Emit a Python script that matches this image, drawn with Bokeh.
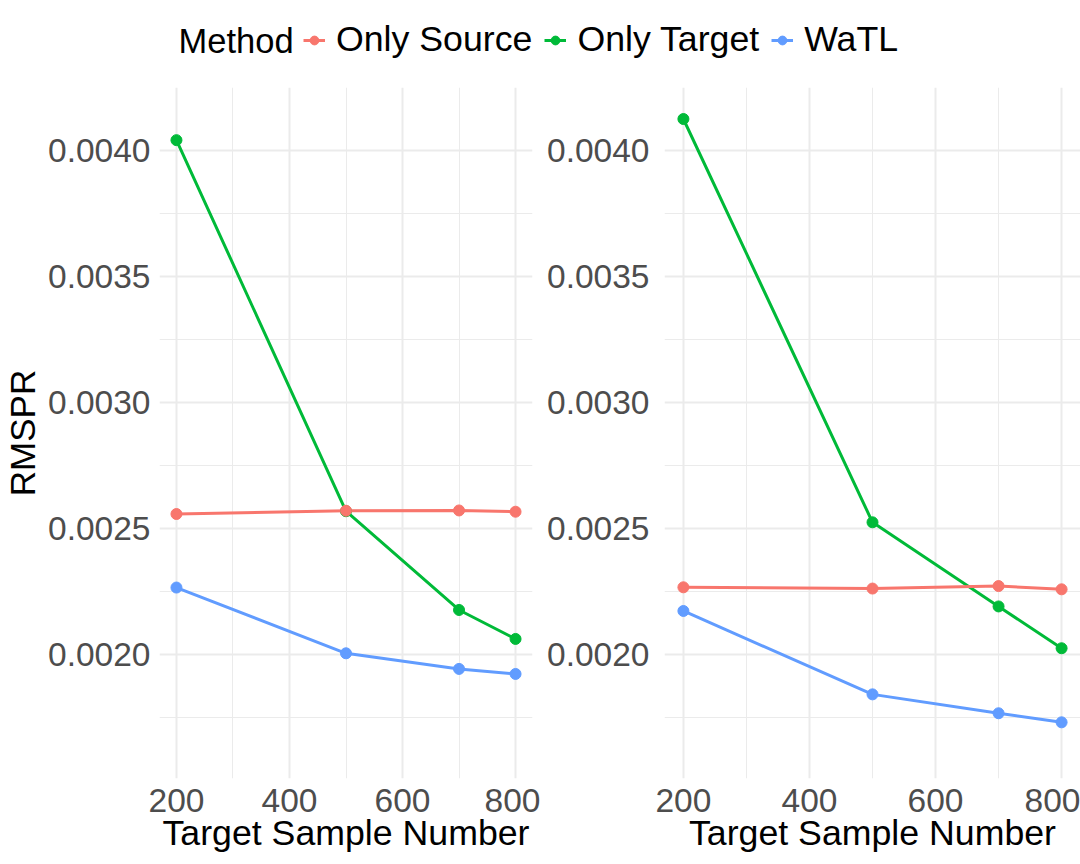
from bokeh.plotting import figure
from bokeh.layouts import column, row
from bokeh.models import (Range1d, FixedTicker, PrintfTickFormatter, Legend,
                          LegendItem, Label)
from bokeh.embed import file_html
from bokeh.resources import INLINE

# ---------------- data ----------------
methods = ["Only Source", "Only Target", "WaTL"]
colors = ["#F8766D", "#00BA38", "#619CFF"]
x_vals = [200, 500, 700, 800]

left_only_source = [0.002557, 0.002570, 0.002571, 0.002566]
left_only_target = [0.004041, 0.002568, 0.002176, 0.002061]
left_watl = [0.002265, 0.002004, 0.001942, 0.001922]

right_only_source = [0.002266, 0.002261, 0.002271, 0.002258]
right_only_target = [0.004125, 0.002524, 0.002190, 0.002024]
right_watl = [0.002172, 0.001841, 0.001766, 0.001730]

x_ticks = [200, 400, 600, 800]
x_minor = [300, 500, 700]
y_ticks = [0.0020, 0.0025, 0.0030, 0.0035, 0.0040]
y_minor = [0.00175, 0.00225, 0.00275, 0.00325, 0.00375, 0.00425]
x_lim = (170, 830)
y_lim = (0.001507, 0.00425)

x_title = "Target Sample Number"
y_title = "RMSPR"
legend_title = "Method"

FONT = "Liberation Sans"
NAN = float("nan")
PANEL_H = 777


def make_panel(series, width, mb_left, mb_right, ylabel, y_standoff):
    p = figure(width=width, height=PANEL_H, output_backend="svg",
               toolbar_location=None,
               x_range=Range1d(*x_lim), y_range=Range1d(*y_lim),
               min_border_left=mb_left, min_border_right=mb_right,
               min_border_top=0, min_border_bottom=86)
    p.outline_line_color = None
    p.background_fill_color = "white"
    p.border_fill_color = "white"

    xt = FixedTicker(ticks=x_ticks, minor_ticks=x_minor)
    yt = FixedTicker(ticks=y_ticks, minor_ticks=y_minor)
    p.xaxis.ticker = xt
    p.yaxis.ticker = yt
    p.xgrid.ticker = xt
    p.ygrid.ticker = yt
    p.yaxis.formatter = PrintfTickFormatter(format="%.4f")

    for ax in (p.xaxis, p.yaxis):
        ax.axis_line_color = None
        ax.major_tick_line_color = None
        ax.minor_tick_line_color = None
        ax.major_label_text_font = FONT
        ax.major_label_text_font_size = "33.5px"
        ax.major_label_text_color = "#4D4D4D"
        ax.axis_label_text_font = FONT
        ax.axis_label_text_font_size = "35.7px"
        ax.axis_label_text_font_style = "normal"
        ax.axis_label_text_color = "black"

    p.xaxis.axis_label = x_title
    p.xaxis.major_label_standoff = 4
    p.xaxis.axis_label_standoff = -2
    p.yaxis.major_label_standoff = y_standoff
    if ylabel:
        p.yaxis.axis_label = ylabel
        p.yaxis.axis_label_text_font_size = "35px"
        p.yaxis.axis_label_standoff = 3

    for g in (p.xgrid, p.ygrid):
        g.grid_line_color = "#EBEBEB"
        g.grid_line_width = 2
        g.minor_grid_line_color = "#EBEBEB"
        g.minor_grid_line_width = 1

    # draw order: green, blue, then red on top
    order = [1, 2, 0]
    for i in order:
        p.line(x_vals, series[i], line_color=colors[i], line_width=3)
    for i in order:
        p.scatter(x_vals, series[i], size=11, color=colors[i])
    return p


left = make_panel([left_only_source, left_only_target, left_watl],
                  540, 159, 8, y_title, 3)
right = make_panel([right_only_source, right_only_target, right_watl],
                   540, 124, 0, None, 9)

# ---------------- legend strip ----------------
leg = figure(width=1080, height=87, output_backend="svg", toolbar_location=None,
             x_range=Range1d(0, 1080), y_range=Range1d(0, 87),
             x_axis_type=None, y_axis_type=None, min_border=0)
leg.outline_line_color = None
leg.grid.visible = False

items = []
for m, c in zip(methods, colors):
    # one invisible (NaN) point per key so the legend glyph can be drawn
    r1 = leg.line([NAN], [NAN], line_color=c, line_width=3)
    r2 = leg.scatter([NAN], [NAN], size=11, color=c)
    items.append(LegendItem(label=m, renderers=[r1, r2]))

legend = Legend(items=items, orientation="horizontal", location=(303, 27),
                label_text_font=FONT, label_text_font_size="35.7px",
                label_text_color="black", label_text_baseline="middle",
                glyph_width=22, glyph_height=40, label_height=40,
                label_standoff=11, spacing=12, padding=0, margin=0,
                border_line_color=None, background_fill_alpha=0)
leg.add_layout(legend)

leg.add_layout(Label(x=178, y=47, text=legend_title, text_font=FONT,
                     text_font_size="34.5px", text_color="black",
                     text_baseline="middle"))

layout = column(leg, row(left, right))
open("out.html", "w").write(file_html(layout, INLINE))
